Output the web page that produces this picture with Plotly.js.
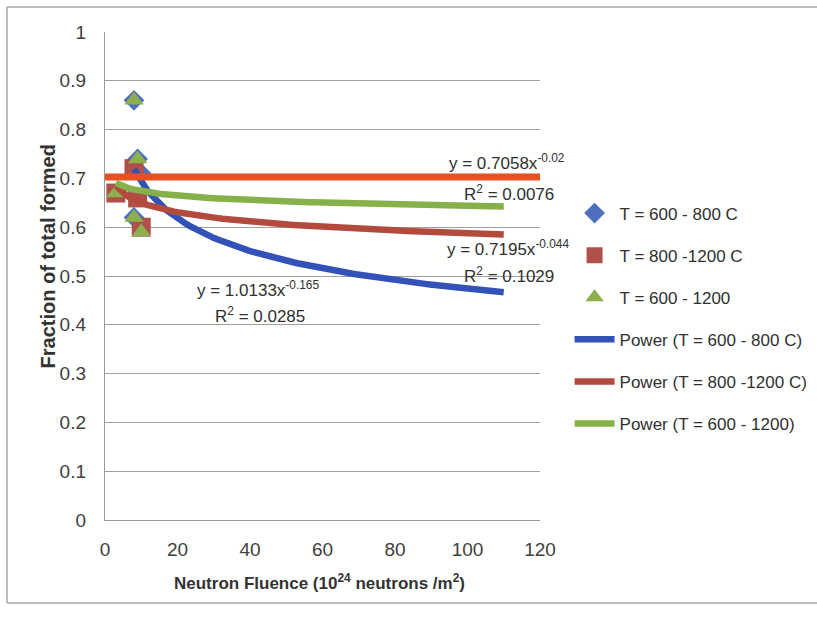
<!DOCTYPE html>
<html>
<head>
<meta charset="utf-8">
<script src="https://cdn.plot.ly/plotly-3.0.1.min.js"></script>
<style>
  html, body { margin: 0; padding: 0; background: #fff; }
  #chart { width: 817px; height: 625px; }
</style>
</head>
<body>
<div id="chart"></div>
<script>
// Measured fractions for each temperature band
const fluenceA = [8, 8, 9, 10];
const fractionA = [0.86, 0.62, 0.74, 0.71];
const fluenceB = [3, 8, 9, 10];
const fractionB = [0.67, 0.72, 0.66, 0.60];
const fluenceC = [3, 8, 8, 9, 10];
const fractionC = [0.67, 0.86, 0.62, 0.74, 0.59];

const seriesNames = ['T = 600 - 800 C', 'T = 800 -1200 C', 'T = 600 - 1200'];
const fitNames = ['Power (T = 600 - 800 C)', 'Power (T = 800 -1200 C)', 'Power (T = 600 - 1200)'];

// Power-law trendlines y = a * x^b and the x span each one covers
const fitCoef = [1.0133, 0.7195, 0.7058];
const fitExp = [-0.165, -0.044, -0.02];
const fitStart = [8, 3, 3];
const fitEnd = [110, 110, 110];
const fitR2 = ['0.0285', '0.1029', '0.0076'];

// Horizontal reference level across the chart
const refLevel = 0.703;
const refSpan = [-0.6, 120.8];

const xTicks = [0, 20, 40, 60, 80, 100, 120];
const yTicks = [0, 0.1, 0.2, 0.3, 0.4, 0.5, 0.6, 0.7, 0.8, 0.9, 1];

const markerColors = ['#4F6FBF', '#B0504A', '#8DB04E'];
const fitColors = ['#3352B8', '#B24A3E', '#86B04A'];
const FONT = '"Liberation Sans Narrow", "Liberation Sans", Arial, sans-serif';

function curve(i) {
  const xs = [], ys = [];
  const n = 120;
  for (let k = 0; k <= n; k++) {
    const x = fitStart[i] + (fitEnd[i] - fitStart[i]) * k / n;
    xs.push(x);
    ys.push(fitCoef[i] * Math.pow(x, fitExp[i]));
  }
  return { xs, ys };
}

const traces = [];
traces.push({
  x: fluenceA, y: fractionA, name: seriesNames[0], type: 'scatter', mode: 'markers',
  marker: { symbol: 'diamond', size: 16, color: markerColors[0] }, legendgroup: 'a'
});
traces.push({
  x: fluenceB, y: fractionB, name: seriesNames[1], type: 'scatter', mode: 'markers',
  marker: { symbol: 'square', size: 19, color: markerColors[1] }, legendgroup: 'b'
});
traces.push({
  x: fluenceC, y: fractionC, name: seriesNames[2], type: 'scatter', mode: 'markers',
  marker: { symbol: 'triangle-up', size: 17, color: markerColors[2] }, legendgroup: 'c'
});
for (let i = 0; i < 3; i++) {
  const c = curve(i);
  traces.push({
    x: c.xs, y: c.ys, name: fitNames[i], type: 'scatter', mode: 'lines',
    line: { color: fitColors[i], width: 6.5 }, legendgroup: 'f' + i
  });
}
traces.push({
  x: refSpan, y: [refLevel, refLevel], type: 'scatter', mode: 'lines',
  line: { color: '#E8501E', width: 7 }, showlegend: false, hoverinfo: 'skip'
});

function eqText(i) {
  return 'y = ' + fitCoef[i].toFixed(4) + 'x<sup>' + fitExp[i] + '</sup>';
}
const annFont = { family: FONT, size: 17, color: '#303030' };
const annotations = [
  { x: 94.3, y: 0.734, text: eqText(2) },
  { x: 98.5, y: 0.670, text: 'R<sup>2</sup> = ' + fitR2[2] },
  { x: 93.8, y: 0.557, text: eqText(1) },
  { x: 98.5, y: 0.502, text: 'R<sup>2</sup> = ' + fitR2[1] },
  { x: 24.8, y: 0.473, text: eqText(0) },
  { x: 29.8, y: 0.421, text: 'R<sup>2</sup> = ' + fitR2[0] }
].map(a => Object.assign({ xref: 'x', yref: 'y', showarrow: false, font: annFont,
  xanchor: 'left', yanchor: 'middle' }, a));

// axis titles placed as paper annotations
annotations.push({
  xref: 'paper', yref: 'paper', x: 0.494, y: -0.127, showarrow: false,
  xanchor: 'center', yanchor: 'middle',
  text: '<b>Neutron Fluence (10<sup>24</sup> neutrons /m<sup>2</sup>)</b>',
  font: { family: FONT, size: 17, color: '#333333' }
});
annotations.push({
  xref: 'paper', yref: 'paper', x: -0.131, y: 0.54, showarrow: false,
  xanchor: 'center', yanchor: 'middle', textangle: -90,
  text: '<b>Fraction of total formed</b>',
  font: { family: FONT, size: 20, color: '#333333' }
});

// outer frame lines of the chart box
const frame = { type: 'line', xref: 'paper', yref: 'paper', line: { color: '#A8A8A8', width: 1.5 } };
const shapes = [
  Object.assign({}, frame, { x0: -0.2253, x1: -0.2253, y0: 1.0512, y1: -0.1701 }),
  Object.assign({}, frame, { x0: -0.2253, x1: 1.64, y0: 1.0512, y1: 1.0512 }),
  Object.assign({}, frame, { x0: -0.2253, x1: 1.64, y0: -0.1701, y1: -0.1701 })
];

const layout = {
  width: 817, height: 625,
  margin: { l: 105, r: 277, t: 32, b: 105, autoexpand: false },
  paper_bgcolor: '#ffffff', plot_bgcolor: '#ffffff',
  font: { family: FONT, color: '#404040', size: 16 },
  showlegend: true,
  legend: {
    x: 1.068, y: 0.665, xanchor: 'left', yanchor: 'top',
    font: { family: FONT, size: 17, color: '#303030' },
    tracegroupgap: 17, traceorder: 'grouped', itemwidth: 40,
    bgcolor: 'rgba(0,0,0,0)'
  },
  xaxis: {
    range: [0, 120], tickvals: xTicks, ticktext: xTicks.map(String),
    showgrid: false, zeroline: false, showline: true, linecolor: '#9A9A9A', linewidth: 1.2,
    ticks: '', ticklen: 0, ticklabelstandoff: 12, tickfont: { size: 19, color: '#404040' }
  },
  yaxis: {
    range: [0, 1], tickvals: yTicks, ticktext: yTicks.map(v => String(v)),
    showgrid: true, gridcolor: '#A0A0A0', gridwidth: 1, zeroline: false,
    showline: true, linecolor: '#9A9A9A', linewidth: 1.2,
    ticks: '', ticklen: 0, ticklabelstandoff: 14, tickfont: { size: 19, color: '#404040' }
  },
  annotations: annotations,
  shapes: shapes
};

Plotly.newPlot('chart', traces, layout, { displayModeBar: false, staticPlot: true });
</script>
</body>
</html>
